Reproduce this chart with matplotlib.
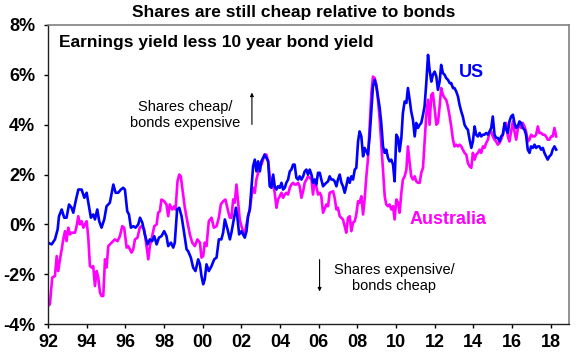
import matplotlib
matplotlib.use("Agg")
import matplotlib.pyplot as plt
import numpy as np

plt.rcParams['font.family'] = ['Liberation Sans', 'DejaVu Sans']

# ---- data (decimal years) ----
us_year = [
    1992.00, 1992.19, 1992.36, 1992.50, 1992.57, 1992.71, 1992.84, 1992.96, 1993.09, 1993.22,
    1993.31, 1993.43, 1993.57, 1993.74, 1993.88, 1994.00, 1994.12, 1994.22, 1994.34, 1994.43,
    1994.55, 1994.65, 1994.77, 1994.91, 1995.03, 1995.20, 1995.38, 1995.50, 1995.63, 1995.77,
    1995.89, 1995.98, 1996.10, 1996.19, 1996.29, 1996.41, 1996.53, 1996.67, 1996.76, 1996.88,
    1997.01, 1997.15, 1997.27, 1997.39, 1997.50, 1997.62, 1997.74, 1997.87, 1998.01, 1998.13,
    1998.22, 1998.36, 1998.48, 1998.56, 1998.68, 1998.79, 1998.91, 1999.03, 1999.17, 1999.25,
    1999.39, 1999.51, 1999.63, 1999.77, 1999.86, 1999.94, 2000.03, 2000.11, 2000.20, 2000.32,
    2000.46, 2000.60, 2000.72, 2000.84, 2000.97, 2001.06, 2001.15, 2001.29, 2001.41, 2001.49,
    2001.63, 2001.72, 2001.80, 2001.89, 2002.01, 2002.09, 2002.18, 2002.27, 2002.35, 2002.44,
    2002.53, 2002.61, 2002.70, 2002.78, 2002.87, 2002.96, 2003.04, 2003.13, 2003.21, 2003.30,
    2003.39, 2003.47, 2003.56, 2003.65, 2003.73, 2003.82, 2003.90, 2003.99, 2004.08, 2004.16,
    2004.25, 2004.33, 2004.42, 2004.51, 2004.59, 2004.68, 2004.76, 2004.85, 2004.94, 2005.02,
    2005.11, 2005.20, 2005.28, 2005.37, 2005.45, 2005.54, 2005.63, 2005.71, 2005.80, 2005.88,
    2005.97, 2006.06, 2006.14, 2006.23, 2006.31, 2006.40, 2006.49, 2006.57, 2006.66, 2006.75,
    2006.83, 2006.92, 2007.00, 2007.09, 2007.18, 2007.26, 2007.35, 2007.43, 2007.52, 2007.61,
    2007.69, 2007.78, 2007.87, 2007.95, 2008.04, 2008.12, 2008.21, 2008.30, 2008.38, 2008.47,
    2008.55, 2008.64, 2008.73, 2008.81, 2008.90, 2008.99, 2009.07, 2009.16, 2009.24, 2009.33,
    2009.42, 2009.50, 2009.59, 2009.67, 2009.76, 2009.85, 2009.93, 2010.02, 2010.11, 2010.19,
    2010.28, 2010.36, 2010.45, 2010.54, 2010.62, 2010.71, 2010.79, 2010.88, 2010.97, 2011.05,
    2011.14, 2011.23, 2011.31, 2011.40, 2011.48, 2011.57, 2011.66, 2011.74, 2011.83, 2011.91,
    2012.00, 2012.09, 2012.17, 2012.26, 2012.34, 2012.43, 2012.52, 2012.60, 2012.69, 2012.78,
    2012.86, 2012.95, 2013.03, 2013.12, 2013.21, 2013.29, 2013.38, 2013.46, 2013.55, 2013.64,
    2013.72, 2013.81, 2013.90, 2013.98, 2014.07, 2014.15, 2014.24, 2014.33, 2014.41, 2014.50,
    2014.58, 2014.67, 2014.76, 2014.84, 2014.93, 2015.01, 2015.10, 2015.18, 2015.27, 2015.36,
    2015.44, 2015.53, 2015.62, 2015.70, 2015.79, 2015.87, 2015.96, 2016.05, 2016.13, 2016.22,
    2016.30, 2016.39, 2016.48, 2016.56, 2016.65, 2016.73, 2016.82, 2016.91, 2016.99, 2017.08,
    2017.17, 2017.25, 2017.34, 2017.42, 2017.51, 2017.60, 2017.68, 2017.77, 2017.85, 2017.94,
    2018.03, 2018.11, 2018.20, 2018.29,
]
us_val = [
    -0.73, -0.80, -0.60, -0.20, 0.33, 0.60, 0.27, 0.27, 0.80, 0.67,
    0.47, 0.93, 1.40, 1.40, 1.07, 1.27, 0.73, 0.27, 0.40, 0.20,
    0.60, 0.13, -0.13, 0.20, 0.73, 0.87, 1.60, 1.27, 1.27, 1.40,
    1.47, 1.40, 0.53, 0.40, -0.13, -0.07, -0.13, 0.00, 0.27, 0.07,
    -0.40, -0.80, -0.60, -0.67, -0.47, -0.80, -0.53, -0.47, -0.27, -0.47,
    -0.87, -0.73, -0.93, -0.73, 0.60, 0.67, 0.33, -0.27, -1.00, -1.07,
    -1.33, -1.73, -1.87, -1.40, -1.60, -2.07, -2.40, -2.20, -1.60, -1.87,
    -1.67, -1.40, -1.33, -0.60, -0.60, -0.33, 0.20, -0.20, -0.60, -0.33,
    0.27, 0.67, 0.27, -0.40, -0.27, -0.40, -0.53, -0.27, 0.33, 0.60,
    1.53, 2.33, 2.60, 2.13, 2.53, 2.13, 2.53, 2.67, 2.80, 2.67,
    2.53, 1.53, 1.47, 2.00, 1.53, 1.40, 1.53, 1.47, 1.67, 1.40,
    1.47, 1.67, 1.80, 2.13, 2.20, 2.40, 2.40, 1.87, 1.80, 1.93,
    1.80, 1.93, 2.13, 2.20, 2.00, 2.20, 2.00, 1.67, 1.80, 1.60,
    2.07, 2.07, 1.80, 1.53, 1.60, 1.67, 1.73, 1.93, 1.80, 1.80,
    1.73, 1.53, 1.80, 2.00, 1.67, 1.53, 1.27, 1.53, 1.87, 1.67,
    1.93, 1.80, 2.20, 2.27, 3.33, 3.73, 3.53, 2.73, 3.07, 2.93,
    2.80, 3.53, 4.60, 5.53, 5.80, 5.53, 5.13, 4.67, 4.07, 3.13,
    2.87, 3.00, 2.67, 2.53, 2.60, 2.40, 1.73, 3.60, 3.47, 2.93,
    3.47, 4.47, 4.93, 4.87, 5.47, 5.00, 4.53, 4.20, 3.53, 4.07,
    3.87, 4.00, 4.07, 4.40, 4.73, 5.67, 6.80, 6.20, 5.73, 6.00,
    6.13, 5.93, 5.40, 5.73, 6.40, 6.07, 6.00, 5.87, 5.80, 5.67,
    5.67, 5.47, 5.47, 5.33, 5.13, 4.80, 4.53, 4.33, 4.00, 3.87,
    3.80, 3.40, 3.07, 3.33, 3.93, 3.60, 3.53, 3.67, 3.53, 3.60,
    3.60, 3.67, 3.60, 3.73, 3.87, 4.33, 3.60, 3.47, 3.47, 3.33,
    3.53, 3.60, 4.07, 3.80, 3.67, 4.13, 4.33, 4.40, 4.07, 3.87,
    3.93, 4.13, 4.07, 3.87, 3.80, 3.60, 3.00, 2.87, 3.13, 3.07,
    3.20, 3.07, 3.13, 3.13, 3.00, 3.07, 2.87, 2.73, 2.60, 2.73,
    2.80, 3.00, 3.13, 3.00,
]

au_year = [
    1992.00, 1992.10, 1992.22, 1992.36, 1992.45, 1992.53, 1992.62, 1992.71, 1992.79, 1992.88,
    1992.96, 1993.05, 1993.14, 1993.22, 1993.40, 1993.48, 1993.57, 1993.65, 1993.74, 1993.83,
    1993.91, 1994.00, 1994.08, 1994.17, 1994.26, 1994.34, 1994.43, 1994.52, 1994.60, 1994.69,
    1994.77, 1994.86, 1994.95, 1995.03, 1995.12, 1995.29, 1995.46, 1995.60, 1995.72, 1995.84,
    1995.94, 1996.07, 1996.15, 1996.24, 1996.32, 1996.41, 1996.50, 1996.63, 1996.75, 1996.84,
    1996.98, 1997.10, 1997.19, 1997.27, 1997.39, 1997.50, 1997.62, 1997.70, 1997.79, 1997.87,
    1998.01, 1998.13, 1998.22, 1998.30, 1998.43, 1998.53, 1998.60, 1998.70, 1998.79, 1998.87,
    1998.96, 1999.08, 1999.22, 1999.34, 1999.46, 1999.60, 1999.73, 1999.86, 1999.94, 2000.03,
    2000.11, 2000.20, 2000.32, 2000.46, 2000.58, 2000.72, 2000.84, 2000.94, 2001.06, 2001.18,
    2001.32, 2001.41, 2001.49, 2001.58, 2001.66, 2001.75, 2001.84, 2001.92, 2002.01, 2002.09,
    2002.18, 2002.27, 2002.35, 2002.44, 2002.53, 2002.61, 2002.70, 2002.78, 2002.87, 2002.96,
    2003.04, 2003.13, 2003.21, 2003.30, 2003.39, 2003.47, 2003.56, 2003.65, 2003.73, 2003.82,
    2003.90, 2003.99, 2004.08, 2004.16, 2004.25, 2004.33, 2004.42, 2004.51, 2004.59, 2004.68,
    2004.76, 2004.85, 2004.94, 2005.02, 2005.11, 2005.20, 2005.28, 2005.37, 2005.45, 2005.54,
    2005.63, 2005.71, 2005.80, 2005.88, 2005.97, 2006.06, 2006.14, 2006.23, 2006.40, 2006.49,
    2006.57, 2006.75, 2006.83, 2006.92, 2007.00, 2007.09, 2007.26, 2007.35, 2007.43, 2007.52,
    2007.61, 2007.69, 2007.78, 2007.87, 2007.95, 2008.04, 2008.12, 2008.21, 2008.30, 2008.38,
    2008.47, 2008.55, 2008.64, 2008.73, 2008.81, 2008.90, 2008.99, 2009.07, 2009.16, 2009.24,
    2009.33, 2009.42, 2009.50, 2009.59, 2009.67, 2009.76, 2009.85, 2009.93, 2010.02, 2010.11,
    2010.19, 2010.28, 2010.36, 2010.45, 2010.54, 2010.62, 2010.71, 2010.79, 2010.88, 2010.97,
    2011.05, 2011.14, 2011.23, 2011.31, 2011.40, 2011.48, 2011.57, 2011.66, 2011.74, 2011.83,
    2011.91, 2012.00, 2012.09, 2012.17, 2012.26, 2012.34, 2012.43, 2012.52, 2012.60, 2012.69,
    2012.78, 2012.86, 2012.95, 2013.03, 2013.12, 2013.21, 2013.29, 2013.38, 2013.46, 2013.55,
    2013.64, 2013.72, 2013.81, 2013.90, 2013.98, 2014.07, 2014.15, 2014.24, 2014.33, 2014.41,
    2014.50, 2014.58, 2014.67, 2014.76, 2014.84, 2014.93, 2015.01, 2015.10, 2015.18, 2015.27,
    2015.36, 2015.44, 2015.53, 2015.62, 2015.70, 2015.79, 2015.87, 2015.96, 2016.05, 2016.13,
    2016.22, 2016.30, 2016.39, 2016.48, 2016.56, 2016.65, 2016.73, 2016.82, 2016.91, 2016.99,
    2017.08, 2017.17, 2017.25, 2017.34, 2017.42, 2017.51, 2017.60, 2017.68, 2017.77, 2017.85,
    2017.94, 2018.03, 2018.11, 2018.20, 2018.29,
]
au_val = [
    -3.27, -3.20, -2.13, -2.07, -1.27, -1.87, -1.40, -1.00, -0.60, -0.27,
    -0.67, -0.13, -0.40, -0.33, -0.33, -0.07, 0.33, 0.00, 0.13, -0.13,
    0.00, 0.13, -0.47, -1.67, -1.73, -1.67, -2.47, -1.87, -2.13, -2.73,
    -2.87, -2.87, -1.40, -1.73, -0.87, -0.73, -0.60, -0.67, -0.47, -0.07,
    -0.13, -0.93, -0.87, -1.00, -1.13, -1.00, -0.60, -0.53, -0.13, -0.07,
    -0.20, -0.87, -1.40, -0.87, -0.47, -0.07, 0.00, 0.47, 0.53, 1.00,
    0.93, 0.80, 0.33, 0.80, 0.60, 0.73, 0.60, 1.73, 2.00, 1.93,
    1.40, 0.67, 0.07, -0.40, -0.73, -0.87, -0.60, -0.73, -1.33, -1.27,
    -0.73, -0.87, 0.13, 0.27, -0.13, -0.07, 0.27, 0.80, 0.93, 1.00,
    0.53, 0.27, 0.27, 1.00, 0.87, 1.60, 0.87, 0.20, -0.07, -0.27,
    -0.33, 0.00, 0.33, 0.60, 1.13, 1.47, 1.27, 1.80, 2.07, 2.33,
    2.40, 2.60, 2.80, 2.80, 2.53, 1.93, 1.80, 1.60, 1.27, 0.67,
    1.00, 1.13, 1.27, 1.07, 1.20, 1.27, 1.20, 1.47, 1.60, 1.67,
    1.60, 1.60, 1.67, 1.53, 1.07, 1.33, 1.67, 1.80, 1.93, 1.87,
    1.80, 1.20, 1.80, 1.53, 1.20, 1.27, 1.13, 0.47, 0.80, 0.73,
    1.27, 1.33, 1.07, 0.60, 0.67, 0.33, 0.20, -0.07, -0.33, 0.27,
    0.33, -0.27, 0.07, 0.13, 0.40, 0.93, 0.87, 1.13, 0.40, 1.00,
    1.93, 2.60, 3.93, 5.27, 5.93, 5.87, 5.60, 5.00, 4.20, 3.27,
    2.20, 1.13, 0.80, 0.73, 0.80, 0.60, 0.73, 0.20, 1.00, 0.87,
    0.47, 1.27, 1.80, 1.93, 2.20, 3.13, 2.47, 1.93, 1.80, 1.93,
    1.73, 1.67, 1.67, 2.07, 2.27, 3.27, 4.40, 5.00, 4.00, 5.20,
    5.27, 4.67, 4.00, 4.07, 4.73, 5.47, 5.20, 5.07, 5.00, 4.73,
    4.33, 3.93, 3.40, 3.13, 3.20, 3.13, 3.20, 3.13, 3.00, 2.87,
    2.80, 2.47, 2.33, 2.27, 2.87, 2.60, 2.80, 2.87, 3.00, 2.87,
    3.13, 3.07, 3.27, 3.40, 3.70, 3.73, 3.53, 3.40, 3.33, 3.20,
    3.27, 3.40, 3.60, 4.00, 4.07, 3.53, 3.33, 3.73, 4.13, 3.73,
    3.40, 3.80, 4.07, 3.87, 4.07, 3.93, 3.73, 3.33, 3.40, 3.60,
    3.53, 3.53, 3.60, 3.93, 3.67, 3.67, 3.60, 3.60, 3.53, 3.40,
    3.40, 3.53, 3.53, 3.87, 3.53,
]

x_ticks = list(range(1992, 2019, 2))
x_labels = ['92', '94', '96', '98', '00', '02', '04', '06', '08', '10', '12', '14', '16', '18']
y_ticks = [-4, -2, 0, 2, 4, 6, 8]

BLUE = '#0000ff'
MAGENTA = '#ff00ff'

fig = plt.figure(figsize=(5.88, 3.57), dpi=100)
ax = fig.add_axes([0.0816, 0.092, 0.886, 0.838])

ax.plot(au_year, au_val, color=MAGENTA, lw=1.9, solid_joinstyle='round')
ax.plot(us_year, us_val, color=BLUE, lw=1.9, solid_joinstyle='round')

ax.set_xlim(1992, 2018.95)
ax.set_ylim(-4, 8)
ax.set_xticks(x_ticks)
ax.set_xticklabels(x_labels)
ax.set_yticks(y_ticks)
ax.set_yticklabels([f'{v}%' for v in y_ticks])
ax.tick_params(axis='both', direction='out', length=3.2, width=1, labelsize=13)
ax.tick_params(axis='y', pad=6)
ax.tick_params(axis='x', pad=4)
for lab in ax.get_xticklabels() + ax.get_yticklabels():
    lab.set_fontweight('bold')

for side in ['top', 'right']:
    ax.spines[side].set_color('#808080')
    ax.spines[side].set_linewidth(1.2)
for side in ['left', 'bottom']:
    ax.spines[side].set_color('#202020')
    ax.spines[side].set_linewidth(1.0)

fig.text(0.5, 0.964, 'Shares are still cheap relative to bonds', ha='center', va='center',
         fontsize=12.5, fontweight='bold')
ax.text(0.022, 0.94, 'Earnings yield less 10 year bond yield', transform=ax.transAxes,
        ha='left', va='center', fontsize=12.5, fontweight='bold')

ax.text(1999.1, 4.38, 'Shares cheap/\nbonds expensive', ha='center', va='center',
        fontsize=10.5, linespacing=1.15)
ax.annotate('', xy=(2002.55, 5.4), xytext=(2002.55, 3.9),
            arrowprops=dict(arrowstyle='-|>', color='black', lw=0.8, mutation_scale=5))

ax.text(2009.9, -2.16, 'Shares expensive/\nbonds cheap', ha='center', va='center',
        fontsize=10.5, linespacing=1.15)
ax.annotate('', xy=(2006.05, -2.8), xytext=(2006.05, -1.3),
            arrowprops=dict(arrowstyle='-|>', color='black', lw=0.8, mutation_scale=5))

ax.text(2013.9, 6.08, 'US', color=BLUE, fontsize=13, fontweight='bold', ha='center', va='center')
ax.text(2012.7, 0.2, 'Australia', color=MAGENTA, fontsize=13, fontweight='bold',
        ha='center', va='center')

fig.savefig('out.png', dpi=100)
